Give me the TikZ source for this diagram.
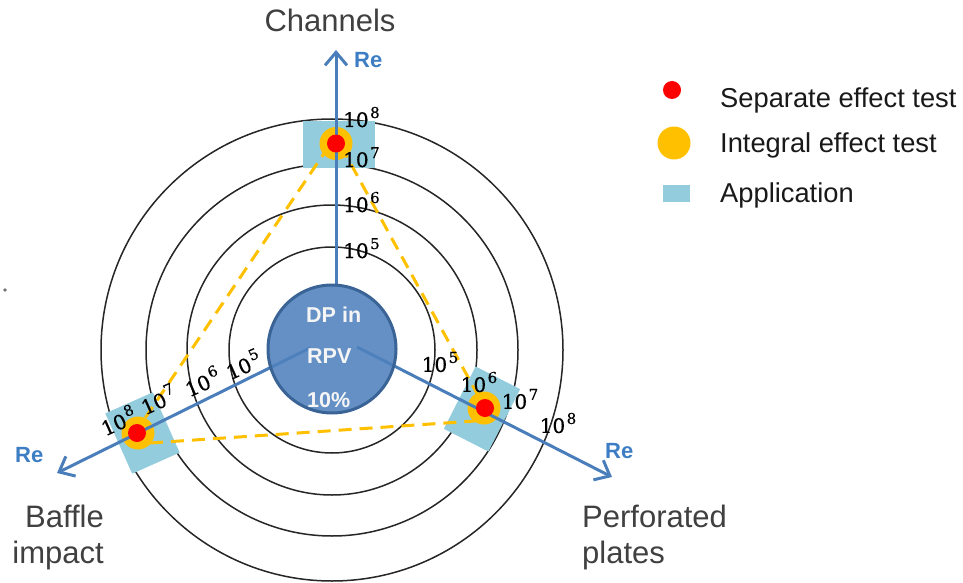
\documentclass[tikz,border=0pt]{standalone}
\usepackage{fontspec}
\setmainfont{Liberation Sans}
\newfontfamily\numfont[FakeBold=0.5]{DejaVu Serif}
\usetikzlibrary{arrows.meta}
\definecolor{axisblue}{HTML}{4A7EBB}
\definecolor{diskblue}{HTML}{4F81BD}
\definecolor{diskedge}{HTML}{3A6496}
\definecolor{reblue}{HTML}{3C7DC4}
\definecolor{appblue}{HTML}{93CDDD}
\definecolor{ietorange}{HTML}{FFC000}
\definecolor{setred}{HTML}{FF0000}
\definecolor{labelgray}{HTML}{404040}
% power of ten with a raised exponent
\newcommand\tenpow[1]{10\kern1.5pt\raisebox{9pt}{\fontsize{15}{15}\selectfont #1}}
\begin{document}
\begin{tikzpicture}[x=1pt,y=-1pt,
  ring/.style={draw=black!85,line width=1.5pt},
  appbox/.style={fill=appblue,draw=none,inner sep=0pt},
  axisline/.style={draw=axisblue,line width=3pt,-{Straight Barb[length=13pt,width=22pt]}},
  trend/.style={draw=ietorange,line width=3pt,dash pattern=on 13pt off 8pt},
  ietdot/.style={circle,fill=ietorange,minimum size=33pt,inner sep=0pt},
  setdot/.style={circle,fill=setred,minimum size=18pt,inner sep=0pt},
  powlabel/.style={font=\numfont\fontsize{20}{20}\selectfont,inner sep=0pt},
  relabel/.style={font=\bfseries\fontsize{22}{22}\selectfont,text=reblue,inner sep=0pt,anchor=base west},
  sectorlabel/.style={font=\fontsize{31}{36}\selectfont,text=labelgray,inner sep=0pt},
  legendtext/.style={font=\fontsize{27.3}{30}\selectfont,text=black!90,anchor=base west,inner sep=0pt}
]
\useasboundingbox (0,0) rectangle (963,583);

% concentric Reynolds-number rings
\coordinate (O) at (332,350);
\foreach \r in {103,145,186,231} \draw[ring] (O) circle[radius=\r];

% application ranges
\node[appbox,minimum width=72pt,minimum height=47pt] (appT) at (339,144.5) {};
\node[appbox,minimum width=52pt,minimum height=66pt,rotate=24] (appL) at (142.5,433) {};
\node[appbox,minimum width=50pt,minimum height=70pt,rotate=-27] (appR) at (482,409) {};

% dashed triangle joining the integral tests
\coordinate (tA) at (329,146);  \coordinate (lA) at (135,433);
\coordinate (tB) at (341,146);  \coordinate (rB) at (485,408);
\coordinate (lC) at (150,443);  \coordinate (rC) at (475,421);
\draw[trend] (tA) -- (lA);
\draw[trend] (tB) -- (rB);
\draw[trend] (lC) -- (rC);

% integral effect tests
\node[ietdot] (ietT) at (336,143.5) {};
\node[ietdot] (ietL) at (138,433) {};
\node[ietdot] (ietR) at (484,408) {};

% Re axes
\coordinate (footT) at (336,285); \coordinate (tipT) at (336,50);
\coordinate (footL) at (310,348); \coordinate (tipL) at (57,473);
\coordinate (footR) at (357,347); \coordinate (tipR) at (612,477);
\draw[axisline] (footT) -- (tipT);
\draw[axisline] (footL) -- (tipL);
\draw[axisline] (footR) -- (tipR);

% separate effect tests
\node[setdot] (setT) at (336,143.5) {};
\node[setdot] (setL) at (137,433) {};
\node[setdot] (setR) at (485,408) {};

% central disk
\node[circle,minimum size=128pt,inner sep=0pt,fill=diskblue,fill opacity=0.88,
      draw=diskedge,line width=3pt] (disk) at (332,349) {};
\node[font=\bfseries\fontsize{21.5}{21.5}\selectfont,text=white!96!black,inner sep=0pt,anchor=base west] (dp) at (306,322) {DP in};
\node[font=\bfseries\fontsize{21.5}{21.5}\selectfont,text=white!96!black,inner sep=0pt,anchor=base west] (rpv) at (307,363) {RPV};
\node[font=\bfseries\fontsize{21.5}{21.5}\selectfont,text=white!96!black,inner sep=0pt,anchor=base west] (pct) at (307,407) {10\%};

% scale labels, upper axis
\node[powlabel,anchor=base west] (t8) at (343,127) {\tenpow{8}};
\node[powlabel,anchor=base west] (t7) at (343,167) {\tenpow{7}};
\node[powlabel,anchor=base west] (t6) at (343,212) {\tenpow{6}};
\node[powlabel,anchor=base west] (t5) at (343,258) {\tenpow{5}};
% scale labels, lower-left axis
\node[powlabel,rotate=24] (l8) at (118,420) {\tenpow{8}};
\node[powlabel,rotate=24] (l7) at (158,399) {\tenpow{7}};
\node[powlabel,rotate=24] (l6) at (202,381) {\tenpow{6}};
\node[powlabel,rotate=24] (l5) at (243,364) {\tenpow{5}};
% scale labels, lower-right axis
\node[powlabel] (r5) at (440,362) {\tenpow{5}};
\node[powlabel] (r6) at (479,382) {\tenpow{6}};
\node[powlabel] (r7) at (520,399) {\tenpow{7}};
\node[powlabel] (r8) at (558,423) {\tenpow{8}};

% axis names
\node[relabel] (reT) at (354,68) {Re};
\node[relabel] (reL) at (15,462) {Re};
\node[relabel] (reR) at (605,458) {Re};

% sector captions
\node[sectorlabel,anchor=base] (chan) at (330,32) {Channels};
\node[sectorlabel,align=right,anchor=north east] (baffle) at (104,505) {Baffle\\impact};
\node[sectorlabel,align=left,anchor=north west] (perf) at (582,505) {Perforated\\plates};

% stray mark
\fill[black!55] (5,290) circle[radius=1.8];

% legend
\node[setdot] (lgSet) at (672,90) {};
\node[ietdot] (lgIet) at (674,143) {};
\node[appbox,minimum width=27pt,minimum height=17pt] (lgApp) at (676.5,193.5) {};
\node[legendtext] (lgSetT) at (720,108) {Separate effect test};
\node[legendtext] (lgIetT) at (720,153) {Integral effect test};
\node[legendtext] (lgAppT) at (720,202) {Application};
\end{tikzpicture}
\end{document}
